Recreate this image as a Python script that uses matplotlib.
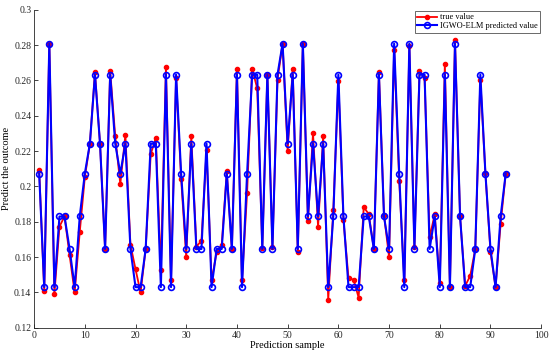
import numpy as np
import matplotlib
matplotlib.use("Agg")
import matplotlib.pyplot as plt

plt.rcParams['font.family'] = ['Liberation Serif', 'DejaVu Serif']

# sample index
samples = np.arange(1, 94)

# true values
true_value = [
    0.2094, 0.1407, 0.2808, 0.1390, 0.1773, 0.1830, 0.1611, 0.1400, 0.1741, 0.2051,
    0.2242, 0.2646, 0.2242, 0.1646, 0.2655, 0.2283, 0.2013, 0.2292, 0.1670, 0.1532,
    0.1400, 0.1646, 0.2183, 0.2274, 0.1528, 0.2674, 0.1468, 0.2614, 0.2041, 0.1600,
    0.2283, 0.1660, 0.1692, 0.2204, 0.1468, 0.1628, 0.1670, 0.2085, 0.1646, 0.2665,
    0.1468, 0.1962, 0.2665, 0.2555, 0.1651, 0.2633, 0.1660, 0.2604, 0.2808, 0.2202,
    0.2665, 0.1628, 0.2808, 0.1802, 0.2302, 0.1770, 0.2283, 0.1358, 0.1864, 0.2595,
    0.1811, 0.1481, 0.1472, 0.1371, 0.1883, 0.1843, 0.1646, 0.2646, 0.1840, 0.1600,
    0.2774, 0.2032, 0.1468, 0.2793, 0.1660, 0.2655, 0.2614, 0.1711, 0.1843, 0.1456,
    0.2695, 0.1430, 0.2827, 0.1830, 0.1437, 0.1494, 0.1646, 0.2604, 0.2075, 0.1628,
    0.1430, 0.1788, 0.2072,
]

# IGWO-ELM predictions
predicted = [
    0.2072, 0.1430, 0.2808, 0.1430, 0.1830, 0.1830, 0.1646, 0.1430, 0.1830, 0.2072,
    0.2242, 0.2633, 0.2242, 0.1646, 0.2633, 0.2242, 0.2072, 0.2242, 0.1646, 0.1430,
    0.1430, 0.1646, 0.2242, 0.2242, 0.1430, 0.2633, 0.1430, 0.2633, 0.2072, 0.1646,
    0.2242, 0.1646, 0.1646, 0.2242, 0.1430, 0.1646, 0.1646, 0.2072, 0.1646, 0.2633,
    0.1430, 0.2072, 0.2633, 0.2633, 0.1646, 0.2633, 0.1646, 0.2633, 0.2808, 0.2242,
    0.2633, 0.1646, 0.2808, 0.1830, 0.2242, 0.1830, 0.2242, 0.1430, 0.1830, 0.2633,
    0.1830, 0.1430, 0.1430, 0.1430, 0.1830, 0.1830, 0.1646, 0.2633, 0.1830, 0.1646,
    0.2808, 0.2072, 0.1430, 0.2808, 0.1646, 0.2633, 0.2633, 0.1646, 0.1830, 0.1430,
    0.2633, 0.1430, 0.2808, 0.1830, 0.1430, 0.1430, 0.1646, 0.2633, 0.2072, 0.1646,
    0.1430, 0.1830, 0.2072,
]

fig = plt.figure(figsize=(5.5, 3.61), dpi=100)
ax = fig.add_axes([0.062, 0.092, 0.922, 0.881])

ax.plot(samples, true_value, color='red', lw=1.3, marker='o', ms=3.0,
        mfc='red', mec='red', label='true value')
ax.plot(samples, predicted, color='blue', lw=1.5, marker='o', ms=4.2,
        mfc='none', mec='blue', mew=1.2, label='IGWO-ELM predicted value')

ax.set_xlim(0, 100)
ax.set_ylim(0.12, 0.3)
ax.set_xticks(np.arange(0, 101, 10))
ax.set_yticks(np.arange(0.12, 0.301, 0.02))
ax.set_yticklabels(['0.12', '0.14', '0.16', '0.18', '0.2', '0.22', '0.24', '0.26', '0.28', '0.3'])
ax.tick_params(direction='in', length=3, width=0.6, labelsize=7, colors='#262626', pad=2)

for s in ['top', 'right']:
    ax.spines[s].set_visible(False)
for s in ['left', 'bottom']:
    ax.spines[s].set_color('#262626')
    ax.spines[s].set_linewidth(0.6)

ax.set_xlabel('Prediction sample', fontsize=7.5, labelpad=1)
ax.set_ylabel('Predict the outcome', fontsize=7.5, labelpad=2)

leg = ax.legend(loc='upper right', fontsize=6, frameon=True, fancybox=False,
                edgecolor='#262626', borderpad=0.3, handlelength=2.4,
                labelspacing=0.1, borderaxespad=0.15, handletextpad=0.3)
leg.get_frame().set_linewidth(0.6)

fig.savefig('out.png', dpi=100)
